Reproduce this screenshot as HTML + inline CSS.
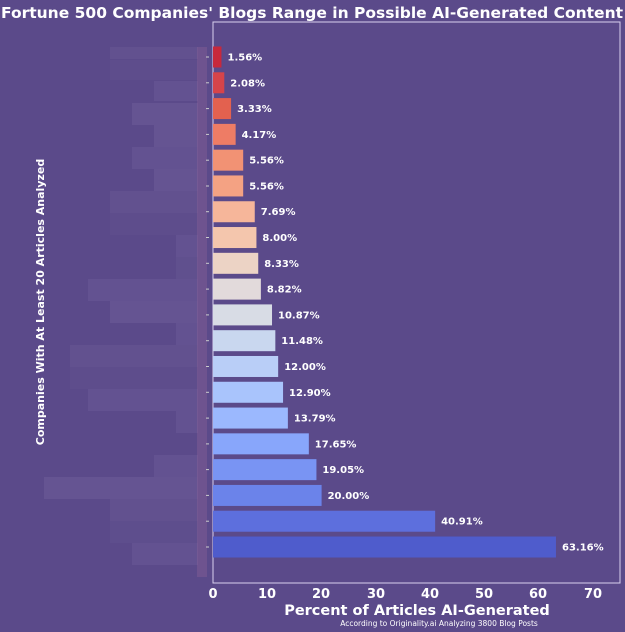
<!DOCTYPE html>
<html><head><meta charset="utf-8"><style>
body{margin:0;background:#5b4a8a;}
svg{display:block;font-family:"DejaVu Sans","Liberation Sans",sans-serif;}
</style></head><body>
<svg width="625" height="632" viewBox="0 0 625 632" xmlns="http://www.w3.org/2000/svg">
<rect width="625" height="632" fill="#5b4a8a"/>
<text x="312" y="18" text-anchor="middle" fill="#fff" font-weight="bold" font-size="15.5">Fortune 500 Companies' Blogs Range in Possible AI-Generated Content</text>
<g fill="#8a7cb0">
<rect x="110" y="47" width="88" height="12" opacity="0.15"/>
<rect x="110" y="60" width="88" height="20" opacity="0.07"/>
<rect x="154" y="81" width="44" height="20" opacity="0.18"/>
<rect x="132" y="103" width="66" height="22" opacity="0.22"/>
<rect x="154" y="125" width="44" height="22" opacity="0.22"/>
<rect x="132" y="147" width="66" height="22" opacity="0.18"/>
<rect x="154" y="169" width="44" height="22" opacity="0.22"/>
<rect x="110" y="191" width="88" height="22" opacity="0.15"/>
<rect x="110" y="213" width="88" height="22" opacity="0.07"/>
<rect x="176" y="235" width="22" height="22" opacity="0.18"/>
<rect x="176" y="257" width="22" height="22" opacity="0.12"/>
<rect x="88" y="279" width="110" height="22" opacity="0.18"/>
<rect x="110" y="301" width="88" height="22" opacity="0.22"/>
<rect x="176" y="323" width="22" height="22" opacity="0.18"/>
<rect x="70" y="345" width="128" height="22" opacity="0.15"/>
<rect x="70" y="367" width="128" height="22" opacity="0.07"/>
<rect x="88" y="389" width="110" height="22" opacity="0.18"/>
<rect x="176" y="411" width="22" height="22" opacity="0.18"/>
<rect x="154" y="455" width="44" height="22" opacity="0.18"/>
<rect x="44" y="477" width="154" height="22" opacity="0.22"/>
<rect x="110" y="499" width="88" height="22" opacity="0.15"/>
<rect x="110" y="521" width="88" height="22" opacity="0.09"/>
<rect x="132" y="543" width="66" height="22" opacity="0.18"/>
</g>
<rect x="197" y="47" width="10" height="530" fill="#9a6a9a" opacity="0.3"/>
<text transform="translate(44,302) rotate(-90)" text-anchor="middle" fill="#fff" font-weight="bold" font-size="11">Companies With At Least 20 Articles Analyzed</text>
<rect x="213" y="22" width="407" height="561" fill="none" stroke="#d8d0ee" stroke-width="1"/>
<g>
<rect x="213" y="46.5" width="8.47" height="21" fill="#c8283c"/>
<rect x="213" y="72.29" width="11.29" height="21" fill="#d6444a"/>
<rect x="213" y="98.08" width="18.08" height="21" fill="#e3614f"/>
<rect x="213" y="123.87" width="22.64" height="21" fill="#ee7c65"/>
<rect x="213" y="149.66" width="30.19" height="21" fill="#f29274"/>
<rect x="213" y="175.45" width="30.19" height="21" fill="#f4a283"/>
<rect x="213" y="201.24" width="41.76" height="21" fill="#f6b69a"/>
<rect x="213" y="227.03" width="43.44" height="21" fill="#f4c6ad"/>
<rect x="213" y="252.82" width="45.23" height="21" fill="#ecd3c5"/>
<rect x="213" y="278.61" width="47.89" height="21" fill="#e2dadb"/>
<rect x="213" y="304.4" width="59.02" height="21" fill="#d8dce5"/>
<rect x="213" y="330.19" width="62.34" height="21" fill="#c9d7ef"/>
<rect x="213" y="355.98" width="65.16" height="21" fill="#b9cef7"/>
<rect x="213" y="381.77" width="70.05" height="21" fill="#a9c4fc"/>
<rect x="213" y="407.56" width="74.88" height="21" fill="#9bb8fe"/>
<rect x="213" y="433.35" width="95.84" height="21" fill="#88a6fb"/>
<rect x="213" y="459.14" width="103.44" height="21" fill="#7994f3"/>
<rect x="213" y="484.93" width="108.6" height="21" fill="#6b83ea"/>
<rect x="213" y="510.72" width="222.14" height="21" fill="#5d6fdd"/>
<rect x="213" y="536.51" width="342.96" height="21" fill="#4f5ccc"/>
</g>
<g stroke="#ccc" stroke-width="1">
<line x1="206" x2="209" y1="57" y2="57"/><line x1="206" x2="209" y1="82.8" y2="82.8"/><line x1="206" x2="209" y1="108.6" y2="108.6"/><line x1="206" x2="209" y1="134.4" y2="134.4"/><line x1="206" x2="209" y1="160.2" y2="160.2"/><line x1="206" x2="209" y1="186" y2="186"/><line x1="206" x2="209" y1="211.7" y2="211.7"/><line x1="206" x2="209" y1="237.5" y2="237.5"/><line x1="206" x2="209" y1="263.3" y2="263.3"/><line x1="206" x2="209" y1="289.1" y2="289.1"/><line x1="206" x2="209" y1="314.9" y2="314.9"/><line x1="206" x2="209" y1="340.7" y2="340.7"/><line x1="206" x2="209" y1="366.5" y2="366.5"/><line x1="206" x2="209" y1="392.3" y2="392.3"/><line x1="206" x2="209" y1="418.1" y2="418.1"/><line x1="206" x2="209" y1="443.9" y2="443.9"/><line x1="206" x2="209" y1="469.6" y2="469.6"/><line x1="206" x2="209" y1="495.4" y2="495.4"/><line x1="206" x2="209" y1="521.2" y2="521.2"/><line x1="206" x2="209" y1="547" y2="547"/>
</g>
<g font-size="10" font-weight="bold" fill="#fff">
<text x="227.5" y="60.5">1.56%</text>
<text x="230.3" y="86.3">2.08%</text>
<text x="237.1" y="112.1">3.33%</text>
<text x="241.6" y="137.9">4.17%</text>
<text x="249.2" y="163.7">5.56%</text>
<text x="249.2" y="189.5">5.56%</text>
<text x="260.8" y="215.2">7.69%</text>
<text x="262.4" y="241">8.00%</text>
<text x="264.2" y="266.8">8.33%</text>
<text x="266.9" y="292.6">8.82%</text>
<text x="278" y="318.4">10.87%</text>
<text x="281.3" y="344.2">11.48%</text>
<text x="284.2" y="370">12.00%</text>
<text x="289" y="395.8">12.90%</text>
<text x="293.9" y="421.6">13.79%</text>
<text x="314.8" y="447.4">17.65%</text>
<text x="322.4" y="473.1">19.05%</text>
<text x="327.6" y="498.9">20.00%</text>
<text x="441.1" y="524.7">40.91%</text>
<text x="562" y="550.5">63.16%</text>
</g>
<g fill="#fff" font-size="13" font-weight="bold" text-anchor="middle">
<text x="213" y="598">0</text><text x="267" y="598">10</text><text x="321" y="598">20</text><text x="376" y="598">30</text><text x="430" y="598">40</text><text x="484" y="598">50</text><text x="538" y="598">60</text><text x="593" y="598">70</text>
</g>
<text x="417" y="615" text-anchor="middle" fill="#fff" font-weight="bold" font-size="14.5">Percent of Articles AI-Generated</text>
<text x="439" y="626" text-anchor="middle" fill="#fff" font-size="7.5">According to Originality.ai Analyzing 3800 Blog Posts</text>
</svg>
</body></html>
